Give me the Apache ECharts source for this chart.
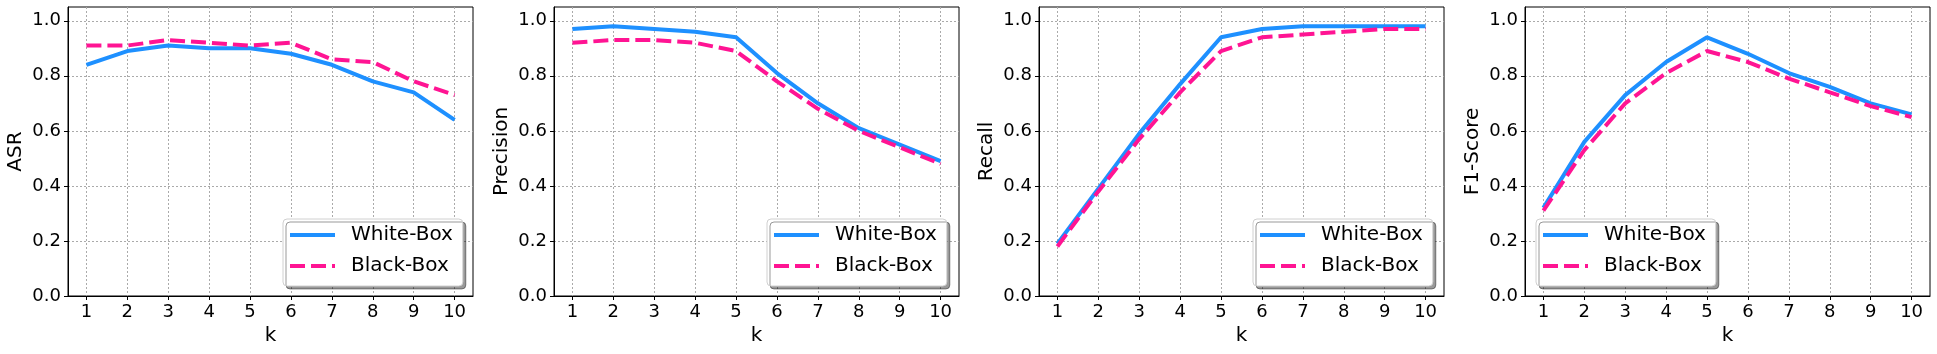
<!DOCTYPE html>
<html>
<head>
<meta charset="utf-8">
<script src="https://cdn.jsdelivr.net/npm/echarts@6/dist/echarts.min.js"></script>
<style>
  html, body { margin: 0; padding: 0; background: #fff; }
  #chart { width: 1937px; height: 354px; }
</style>
</head>
<body>
<div id="chart"></div>
<script>
// data
const ks = [1, 2, 3, 4, 5, 6, 7, 8, 9, 10];
const yTicks = [0, 0.2, 0.4, 0.6, 0.8, 1.0];

const asrWhite = [0.84, 0.89, 0.91, 0.90, 0.90, 0.88, 0.84, 0.78, 0.74, 0.64];
const asrBlack = [0.91, 0.91, 0.93, 0.92, 0.91, 0.92, 0.86, 0.85, 0.78, 0.73];
const precWhite = [0.97, 0.98, 0.97, 0.96, 0.94, 0.81, 0.70, 0.61, 0.55, 0.49];
const precBlack = [0.92, 0.93, 0.93, 0.92, 0.89, 0.78, 0.68, 0.60, 0.54, 0.48];
const recWhite = [0.19, 0.39, 0.59, 0.77, 0.94, 0.97, 0.98, 0.98, 0.98, 0.98];
const recBlack = [0.18, 0.38, 0.57, 0.74, 0.89, 0.94, 0.95, 0.96, 0.97, 0.97];
const f1White = [0.32, 0.56, 0.73, 0.85, 0.94, 0.88, 0.81, 0.76, 0.70, 0.66];
const f1Black = [0.31, 0.53, 0.70, 0.81, 0.89, 0.85, 0.79, 0.74, 0.69, 0.65];

const panels = [
  { name: 'ASR', white: asrWhite, black: asrBlack, left: 68, legendLeft: 283 },
  { name: 'Precision', white: precWhite, black: precBlack, left: 554, legendLeft: 767 },
  { name: 'Recall', white: recWhite, black: recBlack, left: 1039, legendLeft: 1253 },
  { name: 'F1-Score', white: f1White, black: f1Black, left: 1525, legendLeft: 1536 },
];

const FONT = 'DejaVu Sans';
const BLUE = '#1e90ff';
const PINK = '#ff1493';

const myChart = echarts.init(document.getElementById('chart'), null, { renderer: 'canvas' });

const grid = [], xAxis = [], yAxis = [], series = [], legend = [];

panels.forEach((p, i) => {
  grid.push({
    left: p.left, top: 7, width: 405, height: 289,
    show: true, borderColor: '#000', borderWidth: 1, backgroundColor: 'transparent',
  });

  xAxis.push({
    type: 'value', gridIndex: i, min: 0.55, max: 10.45,
    name: 'k', nameLocation: 'middle', nameGap: 28,
    nameTextStyle: { fontFamily: FONT, fontSize: 20, color: '#000' },
    axisLine: { onZero: false, lineStyle: { color: '#000', width: 1 } },
    axisTick: { show: true, length: 4, customValues: ks, lineStyle: { color: '#000' } },
    axisLabel: { customValues: ks, margin: 7, fontFamily: FONT, fontSize: 18, color: '#000' },
    splitLine: { show: true, lineStyle: { color: '#aaa', type: [2, 2], width: 1 } },
  });

  yAxis.push({
    type: 'value', gridIndex: i, min: 0, max: 1.05,
    name: p.name, nameLocation: 'middle', nameGap: 42,
    nameTextStyle: { fontFamily: FONT, fontSize: 20, color: '#000' },
    axisLine: { show: true, lineStyle: { color: '#000', width: 1 } },
    axisTick: { show: true, length: 4, customValues: yTicks, lineStyle: { color: '#000' } },
    axisLabel: {
      customValues: yTicks, margin: 7, fontFamily: FONT, fontSize: 18, color: '#000',
      formatter: v => v.toFixed(1),
    },
    splitLine: { show: true, lineStyle: { color: '#aaa', type: [2, 2], width: 1 } },
  });

  series.push({
    name: 'White-Box', type: 'line', xAxisIndex: i, yAxisIndex: i,
    data: ks.map((k, j) => [k, p.white[j]]),
    symbol: 'none', silent: true,
    lineStyle: { color: BLUE, width: 4 }, itemStyle: { color: BLUE },
  });
  series.push({
    name: 'Black-Box', type: 'line', xAxisIndex: i, yAxisIndex: i,
    data: ks.map((k, j) => [k, p.black[j]]),
    symbol: 'none', silent: true,
    lineStyle: { color: PINK, width: 4, type: [15, 6] }, itemStyle: { color: PINK },
  });

  legend.push({
    orient: 'vertical', left: p.legendLeft, top: 219,
    data: ['White-Box', 'Black-Box'],
    itemWidth: 45, itemHeight: 20, itemGap: 11,
    padding: [6, 10, 10, 5],
    backgroundColor: '#fff',
    borderColor: '#d0d0d0', borderWidth: 1, borderRadius: 4,
    shadowColor: 'rgba(0,0,0,0.4)', shadowBlur: 0, shadowOffsetX: 3, shadowOffsetY: 3,
    itemStyle: { opacity: 0 },
    lineStyle: { width: 4 },
    textStyle: { fontFamily: FONT, fontSize: 20, color: '#000', lineHeight: 20, padding: [0, 0, 0, 11] },
    selectedMode: false,
  });
});

const option = {
  animation: false,
  backgroundColor: '#fff',
  grid, xAxis, yAxis, series, legend,
};

myChart.setOption(option);
</script>
</body>
</html>
